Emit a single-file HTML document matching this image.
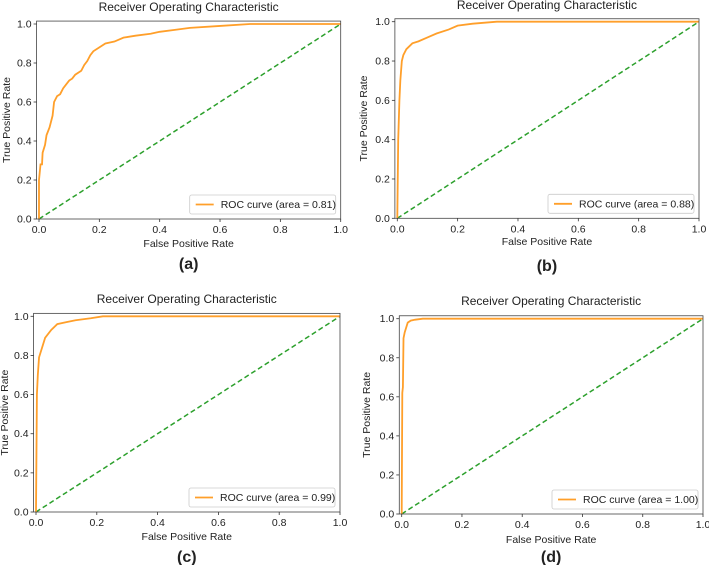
<!DOCTYPE html>
<html><head><meta charset="utf-8"><style>
html,body{margin:0;padding:0;background:#fff;}
svg text{font-family:"Liberation Sans","DejaVu Sans",sans-serif;fill:#222;}
</style></head><body>
<svg id="fig" width="709" height="565" xmlns="http://www.w3.org/2000/svg"></svg>
<script>
const fprA=[0,0,0.005,0.01,0.012,0.02,0.025,0.035,0.045,0.05,0.06,0.07,0.08,0.09,0.1,0.11,0.12,0.14,0.15,0.16,0.17,0.18,0.2,0.22,0.25,0.28,0.32,0.37,0.4,0.45,0.5,0.6,0.7,1];
const tprA=[0,0.2,0.28,0.28,0.34,0.38,0.43,0.47,0.53,0.6,0.63,0.64,0.67,0.69,0.71,0.72,0.74,0.76,0.79,0.81,0.84,0.86,0.88,0.9,0.91,0.93,0.94,0.95,0.96,0.97,0.98,0.99,1,1];
const fprB=[0,0.003,0.007,0.01,0.015,0.02,0.03,0.05,0.07,0.1,0.13,0.17,0.2,0.25,0.33,1];
const tprB=[0,0.4,0.6,0.7,0.8,0.83,0.86,0.89,0.9,0.92,0.94,0.96,0.98,0.99,1,1];
const fprC=[0,0.003,0.006,0.01,0.02,0.03,0.05,0.07,0.1,0.13,0.18,0.22,1];
const tprC=[0,0.6,0.7,0.79,0.84,0.89,0.93,0.96,0.97,0.98,0.99,1,1];
const fprD=[0,0.002,0.004,0.006,0.01,0.02,0.03,0.045,0.07,1];
const tprD=[0,0.62,0.65,0.9,0.93,0.98,0.99,0.995,1,1];
const areas=["0.81","0.88","0.99","1.00"];
const tickVals=[0,0.2,0.4,0.6,0.8,1.0];
const tickLabels=["0.0","0.2","0.4","0.6","0.8","1.0"];
const panelLabels=["(a)","(b)","(c)","(d)"];

const NS="http://www.w3.org/2000/svg";
const svg=document.getElementById('fig');
function mk(tag,attrs,parent,text){const e=document.createElementNS(NS,tag);for(const k in attrs)e.setAttribute(k,attrs[k]);if(text!==undefined)e.textContent=text;(parent||svg).appendChild(e);return e;}

const panels=[
 {x0:39,x1:340.7,y0:219,y1:24,title:7,xl:243,pl:263,yl:7,fpr:fprA,tpr:tprA},
 {x0:397.3,x1:699,y0:218.3,y1:21.7,title:5,xl:241,pl:265,yl:364,fpr:fprB,tpr:tprB},
 {x0:36,x1:340,y0:512,y1:316.3,title:299,xl:536,pl:556,yl:5,fpr:fprC,tpr:tprC},
 {x0:401.7,x1:703,y0:514,y1:318.7,title:301,xl:539,pl:556,yl:367,fpr:fprD,tpr:tprD}
];
panels.forEach((p,i)=>{
 const g=mk('g',{});
 
 
 const sx=v=>p.x0+v*(p.x1-p.x0);
 const sy=v=>p.y0-v*(p.y0-p.y1);
 const L=sx(-0.008),R=sx(1),T=sy(1.015),B=sy(0);
 const cx=(L+R)/2;
 const t=mk('text',{x:cx,y:p.title+4,'text-anchor':'middle','font-size':'12'},g,'Receiver Operating Characteristic');
 
 const d=mk('line',{x1:sx(0),y1:sy(0),x2:sx(1),y2:sy(1),stroke:'#2ca02c','stroke-width':1.5,'stroke-dasharray':'5,3'},g);
 
 const pts=p.fpr.map((f,k)=>sx(f).toFixed(2)+','+sy(p.tpr[k]).toFixed(2)).join(' ');
 const c=mk('polyline',{points:pts,fill:'none',stroke:'#ff9f2a','stroke-width':1.8},g);
 
 const fr=mk('rect',{x:L,y:T,width:R-L,height:B-T,fill:'none',stroke:'#444','stroke-width':0.8},g);
 
 tickVals.forEach((v,k)=>{
  mk('line',{x1:sx(v),y1:B,x2:sx(v),y2:B+3,stroke:'#333','stroke-width':0.8},g);
  const xt=mk('text',{x:sx(v),y:B+14,'text-anchor':'middle','font-size':'10.5'},g,tickLabels[k]);
  
  mk('line',{x1:L,y1:sy(v),x2:L-3,y2:sy(v),stroke:'#333','stroke-width':0.8},g);
  const yt=mk('text',{x:L-5,y:sy(v)+3.5,'text-anchor':'end','font-size':'10.5'},g,tickLabels[k]);
  
 });
 const xl=mk('text',{x:cx,y:p.xl+4,'text-anchor':'middle','font-size':'10.5'},g,'False Positive Rate');
 
 const ym=(T+B)/2;
 const yl=mk('text',{x:p.yl,y:ym,'text-anchor':'middle','font-size':'10.5','dominant-baseline':'middle',transform:`rotate(-90 ${p.yl} ${ym})`},g,'True Positive Rate');
 
 const lw=146,lh=19,lx=R-5-lw,ly=B-5-lh;
 const lg=mk('g',{},g);
 
 mk('rect',{x:lx,y:ly,width:lw,height:lh,rx:2,fill:'#fff',stroke:'#ccc','stroke-width':0.8},lg);
 mk('line',{x1:lx+6,y1:ly+lh/2,x2:lx+24,y2:ly+lh/2,stroke:'#ff9f2a','stroke-width':1.8},lg);
 mk('text',{x:lx+31,y:ly+lh/2+3.5,'font-size':'10.5'},lg,'ROC curve (area = '+areas[i]+')');
 const pl=mk('text',{x:cx,y:p.pl+6,'text-anchor':'middle','font-size':'16','font-weight':'bold'},g,panelLabels[i]);
 
});
</script>
</body></html>
